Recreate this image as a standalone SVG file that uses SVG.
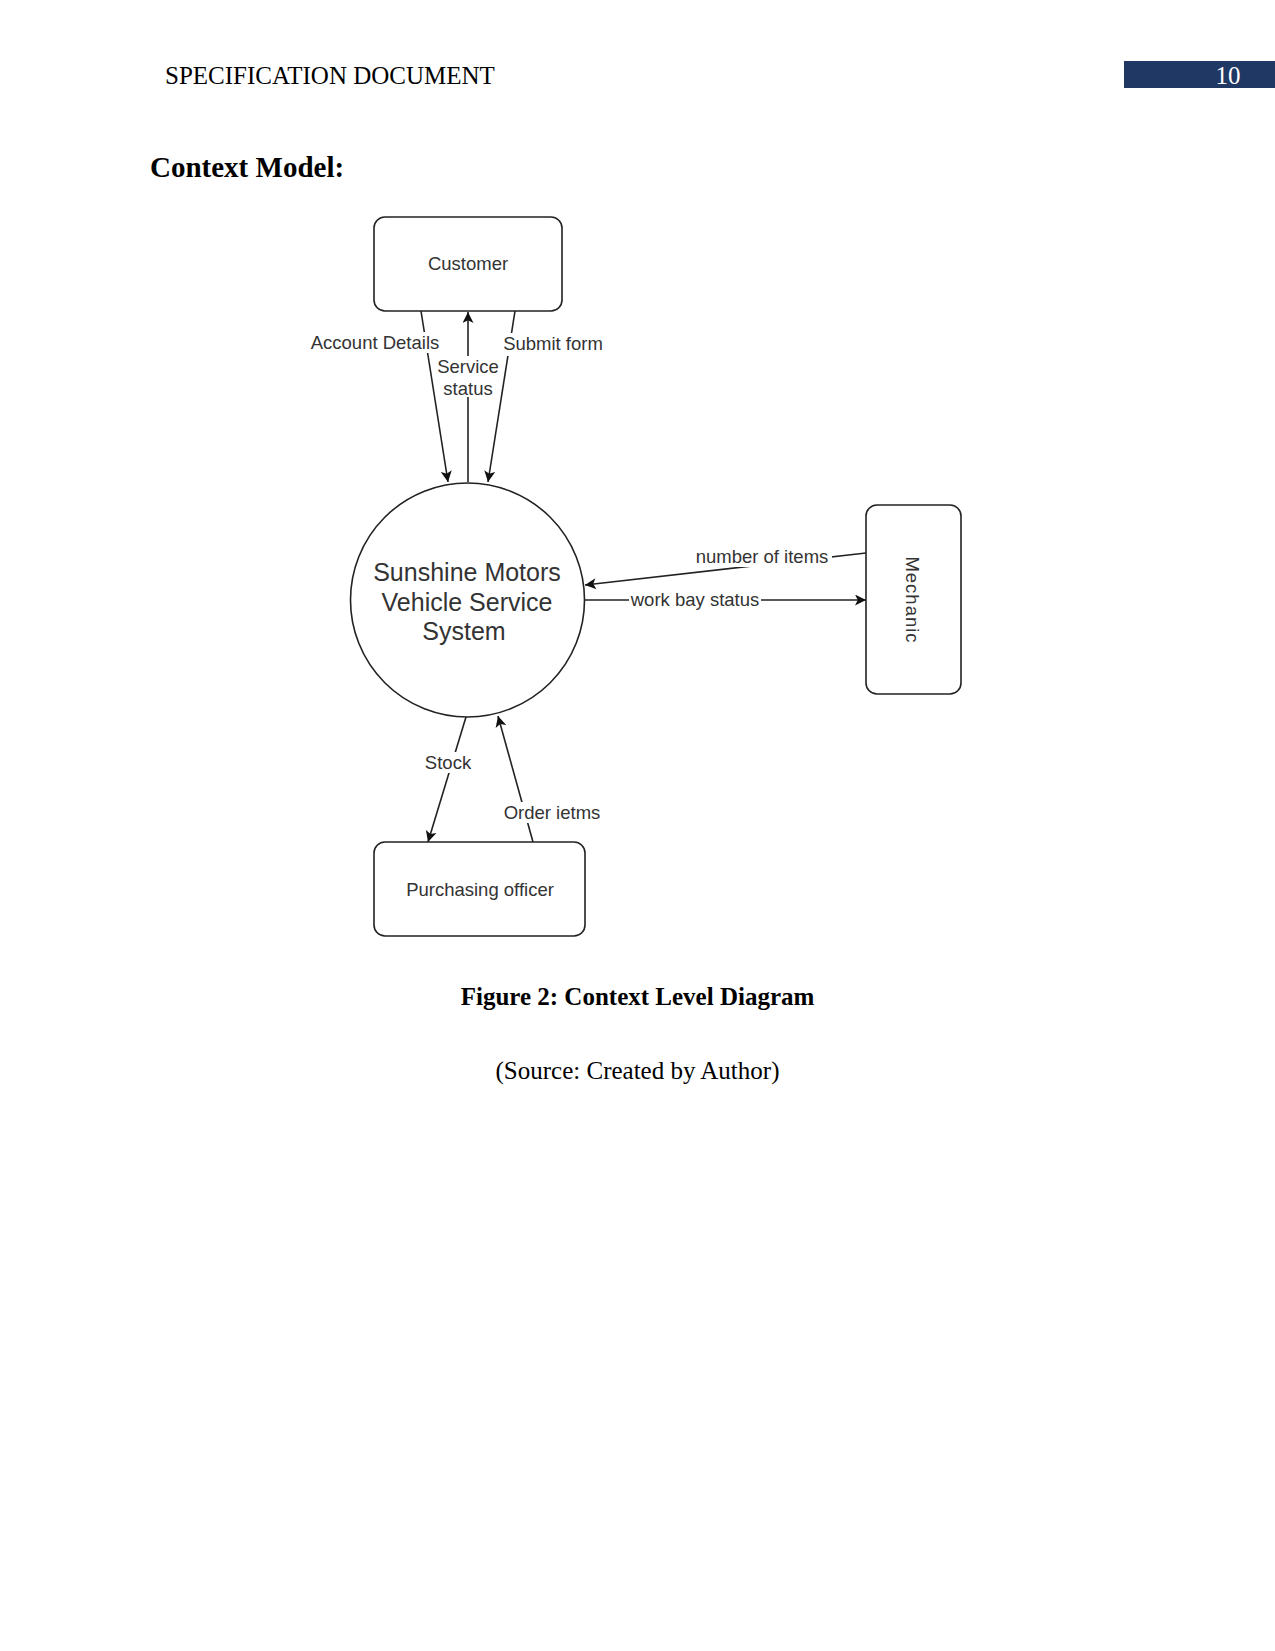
<svg xmlns="http://www.w3.org/2000/svg" width="1275" height="1651" viewBox="0 0 1275 1651">
<style>
.serif{font-family:"Liberation Serif","Times New Roman",serif;fill:#000}
.node{fill:#fff;stroke:#222;stroke-width:1.6}
.lbl{font-family:"Liberation Sans",Arial,sans-serif;font-size:18.5px;fill:#333;text-anchor:middle}
.big{font-family:"Liberation Sans",Arial,sans-serif;font-size:25px;fill:#333;text-anchor:middle}
.edge{fill:none;stroke:#222;stroke-width:1.6}
.bg{fill:#fff}
</style>
<defs>
<marker id="arr" viewBox="0 0 10 10" refX="10" refY="5" markerWidth="13" markerHeight="11" markerUnits="userSpaceOnUse" orient="auto">
<path d="M0,0 L10,5 L0,10 L2.5,5 z" fill="#111"/>
</marker>
</defs>
<rect width="1275" height="1651" fill="#fff"/>
<g id="header">
<text class="serif" x="165" y="84" font-size="25">SPECIFICATION DOCUMENT</text>
<rect x="1124" y="61" width="151" height="27" fill="#203864"/>
<text x="1228" y="84" font-size="25" text-anchor="middle" font-family="Liberation Serif, Times New Roman, serif" fill="#fff">10</text>
</g>
<text class="serif" x="150" y="177" font-size="29" font-weight="bold">Context Model:</text>

<g id="connectors">
<path class="edge" d="M421,311 L448,482" marker-end="url(#arr)"/>
<path class="edge" d="M468,482 L468,312" marker-end="url(#arr)"/>
<path class="edge" d="M515,311 L488,482" marker-end="url(#arr)"/>
<path class="edge" d="M866,553 L585,585" marker-end="url(#arr)"/>
<path class="edge" d="M585,600 L866,600" marker-end="url(#arr)"/>
<path class="edge" d="M466,717 L428,842" marker-end="url(#arr)"/>
<path class="edge" d="M533,842 L498,716" marker-end="url(#arr)"/>
<g id="edge-labels">
<rect class="bg" x="311" y="332" width="128" height="21"/>
<text class="lbl" x="375" y="349">Account Details</text>
<rect class="bg" x="436" y="356" width="64" height="41"/>
<text class="lbl" x="468" y="373">Service</text>
<text class="lbl" x="468" y="395">status</text>
<rect class="bg" x="503" y="333" width="101" height="23"/>
<text class="lbl" x="553" y="350">Submit form</text>
<rect class="bg" x="693" y="546" width="139" height="21"/>
<text class="lbl" x="762" y="563">number of items</text>
<rect class="bg" x="629" y="590" width="132" height="20"/>
<text class="lbl" x="695" y="606">work bay status</text>
<rect class="bg" x="424" y="752" width="49" height="21"/>
<text class="lbl" x="448" y="769">Stock</text>
<rect class="bg" x="502" y="802" width="100" height="21"/>
<text class="lbl" x="552" y="819">Order ietms</text>
</g>
</g>

<g id="customer">
<rect class="node" x="374" y="217" width="188" height="94" rx="11"/>
<text class="lbl" x="468" y="270">Customer</text>
</g>
<g id="system">
<circle class="node" cx="467.5" cy="600" r="117"/>
<text class="big" x="467" y="581">Sunshine Motors</text>
<text class="big" x="467" y="611">Vehicle Service</text>
<text class="big" x="464" y="640">System</text>
</g>
<g id="mechanic">
<rect class="node" x="866" y="505" width="95" height="189" rx="11"/>
<text class="lbl" x="0" y="0" letter-spacing="1" transform="translate(906,600) rotate(90)">Mechanic</text>
</g>
<g id="purchasing">
<rect class="node" x="374" y="842" width="211" height="94" rx="11"/>
<text class="lbl" x="480" y="896">Purchasing officer</text>
</g>

<text class="serif" x="637.5" y="1005" font-size="25" font-weight="bold" text-anchor="middle">Figure 2: Context Level Diagram</text>
<text class="serif" x="637.5" y="1079" font-size="25" text-anchor="middle">(Source: Created by Author)</text>
</svg>
